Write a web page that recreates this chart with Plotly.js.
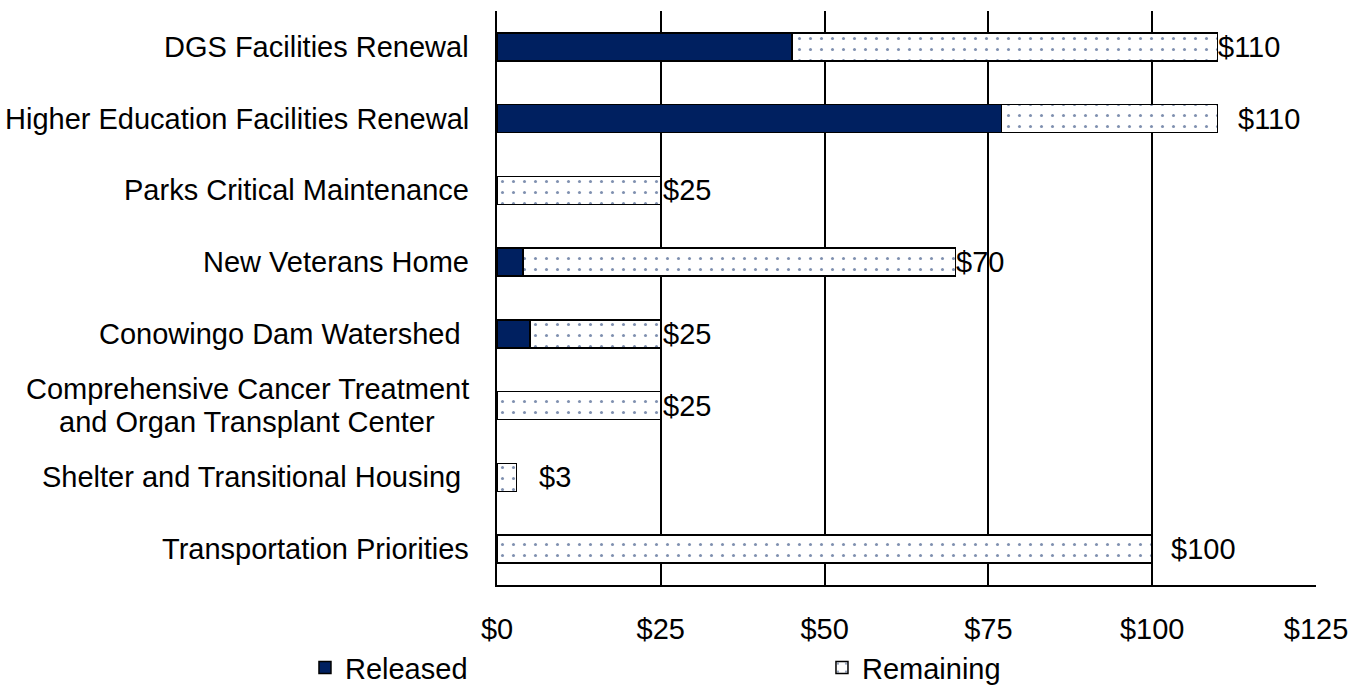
<!DOCTYPE html>
<html>
<head>
<meta charset="utf-8">
<script src="https://cdn.plot.ly/plotly-3.0.1.min.js"></script>
<style>html,body{margin:0;padding:0;background:#fff;}#chart{width:1367px;height:687px;}</style>
</head>
<body>
<div id="chart"></div>
<script>
// ---- data ----
const categories = [
  "DGS Facilities Renewal",
  "Higher Education Facilities Renewal",
  "Parks Critical Maintenance",
  "New Veterans Home",
  "Conowingo Dam Watershed",
  "Comprehensive Cancer Treatment and Organ Transplant Center",
  "Shelter and Transitional Housing",
  "Transportation Priorities"
];
const categoryLabels = [
  "DGS Facilities Renewal",
  "Higher Education Facilities Renewal",
  "Parks Critical Maintenance",
  "New Veterans Home",
  "Conowingo Dam Watershed\u00a0",
  "Comprehensive Cancer Treatment<br>and Organ Transplant Center",
  "Shelter and Transitional Housing\u00a0",
  "Transportation Priorities"
];
const released  = [45, 77, 0, 4, 5, 0, 0, 0];
const remaining = [65, 33, 25, 66, 20, 25, 3, 100];
const totalLabels = ["$110", "$110", "$25", "$70", "$25", "$25", "$3", "$100"];
const xTickValues = [0, 25, 50, 75, 100, 125];
const xTickLabels = ["$0", "$25", "$50", "$75", "$100", "$125"];

// ---- style (label offsets in px, not data) ----
const labelShift = [-2, 18, 0, -2, 0, 0, 20, 17];
const FONT = "Liberation Sans, Arial, sans-serif";
const FS = 29;
const LINE_H = 33;
const NAVY = "#002060";

const totals = released.map((v, i) => v + remaining[i]);

const traces = [
  {
    type: "bar", orientation: "h", name: "Released",
    y: categories, x: released,
    marker: { color: NAVY, line: { color: "#000", width: 1.5 } },
    width: 0.39, hoverinfo: "x+y", legend: "legend"
  },
  {
    type: "bar", orientation: "h", name: "Remaining",
    y: categories, x: remaining,
    marker: {
      color: "#fff",
      line: { color: "#000", width: 1.5 },
      pattern: { shape: ".", fgcolor: NAVY, bgcolor: "#fff", size: 11, solidity: 0.06, fillmode: "overlay" }
    },
    width: 0.39, hoverinfo: "x+y", legend: "legend2"
  }
];

const annotations = [];
categories.forEach((c, i) => {
  annotations.push({
    xref: "x", yref: "y", x: totals[i], y: c,
    text: totalLabels[i], showarrow: false,
    xanchor: "left", yanchor: "middle", xshift: labelShift[i],
    font: { family: FONT, size: FS, color: "#000" }
  });
  const lines = categoryLabels[i].split("<br>");
  lines.forEach((ln, k) => {
    annotations.push({
      xref: "paper", yref: "y", x: 0, y: c,
      text: ln, showarrow: false,
      xanchor: lines.length > 1 ? "center" : "right", yanchor: "middle",
      xshift: lines.length > 1 ? -250 : -26,
      yshift: ((lines.length - 1) / 2 - k) * LINE_H,
      font: { family: FONT, size: FS, color: "#000" }
    });
  });
});

const legendCommon = {
  orientation: "h", xanchor: "left", xref: "container",
  y: 0.028, yanchor: "middle", yref: "container",
  font: { family: FONT, size: FS, color: "#000" },
  bgcolor: "rgba(0,0,0,0)", borderwidth: 0
};

const layout = {
  width: 1367, height: 687,
  margin: { l: 497, r: 51, t: 11, b: 102, pad: 0 },
  paper_bgcolor: "#fff", plot_bgcolor: "#fff",
  barmode: "stack",
  font: { family: FONT, size: FS, color: "#000" },
  xaxis: {
    range: [0, 125], tickvals: xTickValues, ticktext: xTickLabels,
    showgrid: true, gridcolor: "#000", gridwidth: 2,
    showline: true, linecolor: "#000", linewidth: 2,
    zeroline: false, ticks: "", ticklabelstandoff: 17,
    tickfont: { family: FONT, size: FS, color: "#000" }, fixedrange: true
  },
  yaxis: {
    categoryorder: "array", categoryarray: categories, autorange: "reversed",
    showticklabels: false, ticks: "", showgrid: false,
    showline: true, linecolor: "#000", linewidth: 2, zeroline: false, fixedrange: true
  },
  showlegend: true,
  legend: Object.assign({}, legendCommon, { x: 0.2231 }),
  legend2: Object.assign({}, legendCommon, { x: 0.6013 }),
  annotations: annotations
};

Plotly.newPlot("chart", traces, layout, { displayModeBar: false, staticPlot: true });
</script>
</body>
</html>
